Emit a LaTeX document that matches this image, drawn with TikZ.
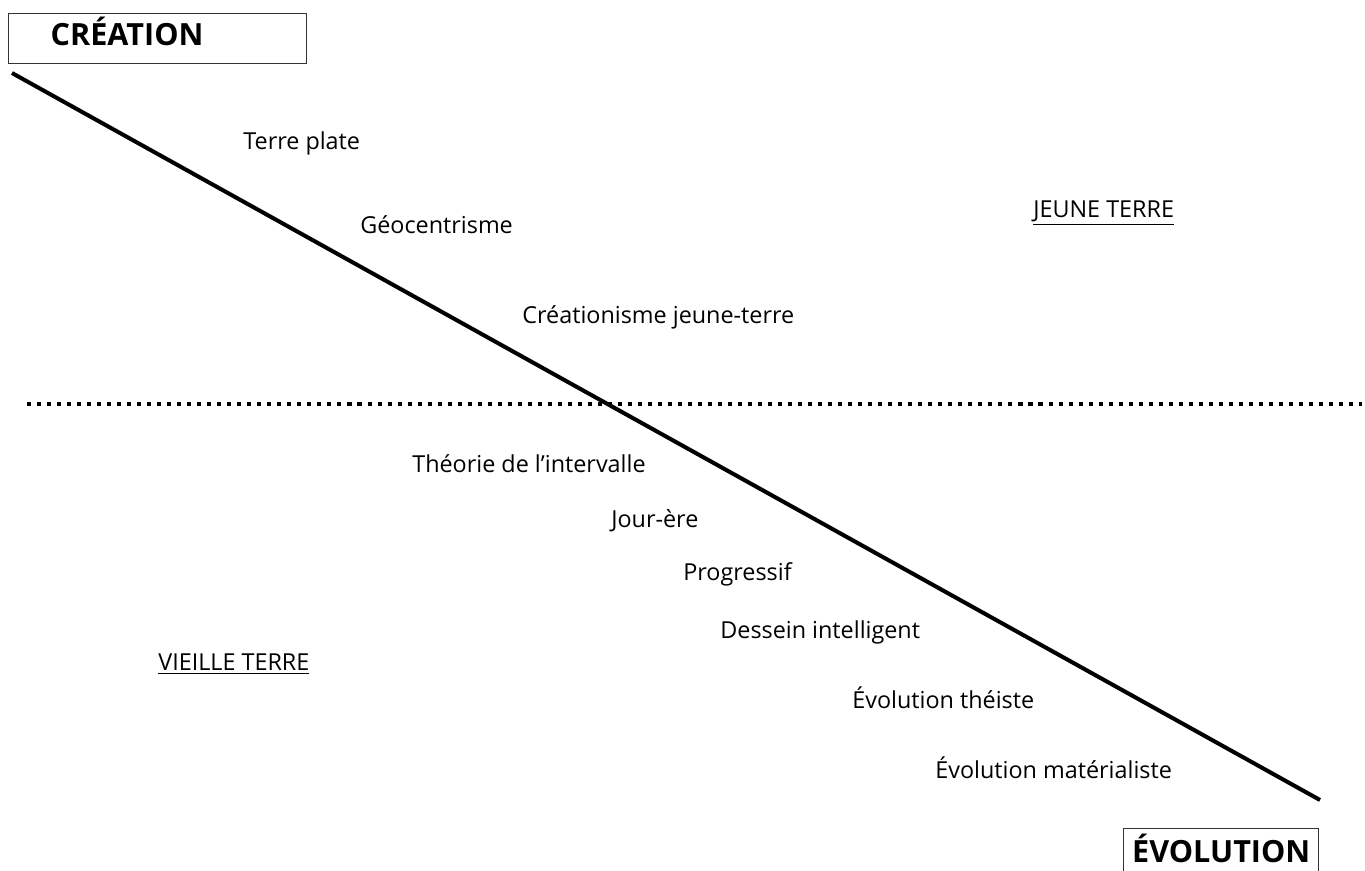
\documentclass[tikz,border=0pt]{standalone}
\usepackage{fontspec}
\setmainfont{Open Sans}
\begin{document}
\begin{tikzpicture}[x=0.02cm,y=-0.02cm,line width=0.4pt,
  endbox/.style={draw=black!80,line width=0.8pt,anchor=north west,
                 inner sep=0pt,font=\fontsize{17.4}{21}\selectfont\bfseries},
  lbl/.style={anchor=west,inner sep=0pt,font=\fontsize{13.3}{16}\selectfont},
  zone/.style={lbl}]
  \useasboundingbox (0,0) rectangle (1365,870);
  \node[endbox,inner xsep=0.84cm,text width=4.28cm,align=left,
        text height=18pt,text depth=10.3pt] (crea) at (8,13)
    {CRÉATION};
  \node[endbox,text width=3.9cm,align=center,
        text height=19.5pt,text depth=8pt] (evo) at (1123,828)
    {ÉVOLUTION};
  \coordinate (top) at (12,73);
  \coordinate (bot) at (1320,800);
  \coordinate (dl) at (27,404);
  \coordinate (dr) at (1362,404);
  \draw[line width=2.3pt,dash pattern=on 2.3pt off 3.4pt] (dl) -- (dr);
  \draw[line width=2.3pt] (top) -- (bot);
  \node[lbl] (t1) at (243,143) {Terre plate};
  \node[lbl] (t2) at (360,225) {Géocentrisme};
  \node[lbl] (t3) at (522,317) {Créationisme jeune-terre};
  \node[lbl] (t4) at (412,464) {Théorie de l’intervalle};
  \node[lbl] (t5) at (611,521) {Jour-ère};
  \node[lbl] (t6) at (683,574) {Progressif};
  \node[lbl] (t7) at (720,632) {Dessein intelligent};
  \node[lbl] (t8) at (852,698) {Évolution théiste};
  \node[lbl] (t9) at (935,768) {Évolution matérialiste};
  \node[zone] (jeune) at (1033,213) {\underline{JEUNE TERRE}};
  \node[zone] (vieille) at (158,664) {\underline{VIEILLE TERRE}};
\end{tikzpicture}
\end{document}
